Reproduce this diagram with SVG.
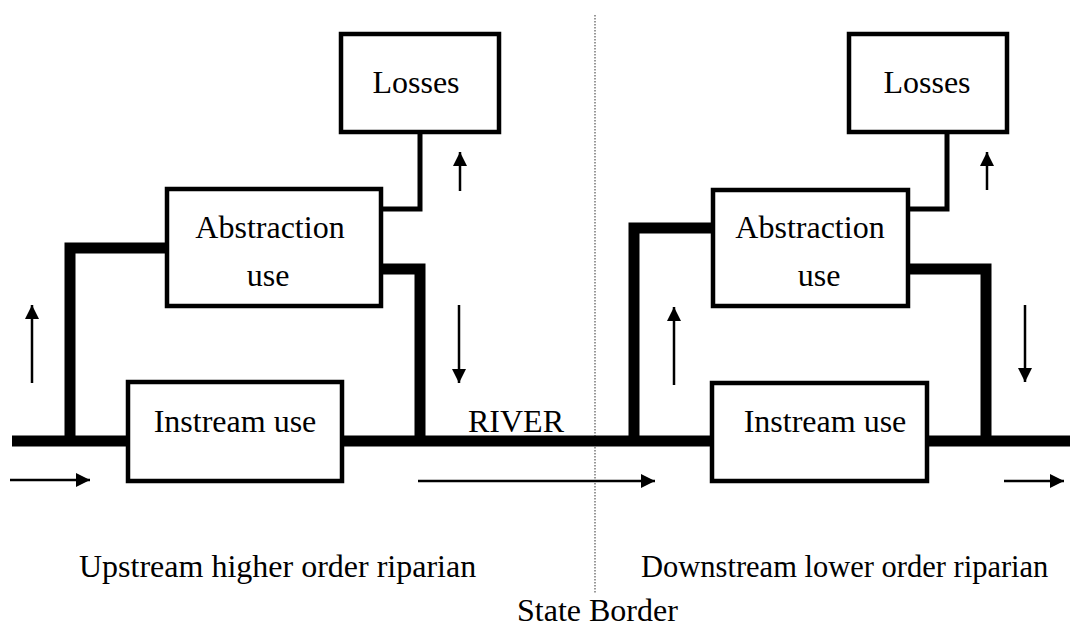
<svg xmlns="http://www.w3.org/2000/svg" width="1070" height="628" viewBox="0 0 1070 628">
<style>
.box{fill:#fff;stroke:#000;stroke-width:4.5}
.t{font-family:"Liberation Serif","Times New Roman",serif;font-size:32px;fill:#000}
.c{text-anchor:middle}
.thick{fill:none;stroke:#000;stroke-width:11;stroke-linejoin:miter}
.thin{fill:none;stroke:#000;stroke-width:5}
.arr{fill:none;stroke:#000;stroke-width:2.5;marker-end:url(#ah)}
.border{fill:none;stroke:#555;stroke-width:1.2;stroke-dasharray:1.5 1.5}
</style>
<defs>
<marker id="ah" markerUnits="userSpaceOnUse" viewBox="0 0 14 14" refX="14" refY="7" markerWidth="14" markerHeight="14" orient="auto">
<path d="M0,0 L14,7 L0,14 z" fill="#000"/>
</marker>
</defs>
<rect width="1070" height="628" fill="#fff"/>
<g id="state-border">
<line class="border" x1="595" y1="15" x2="595" y2="593"/>
</g>
<g id="connectors">
<path class="thick" d="M12 441 L1070 441"/>
<path class="thick" d="M165 248 L70 248 L70 441"/>
<path class="thick" d="M383 269 L420 269 L420 441"/>
<path class="thick" d="M711 228 L634 228 L634 441"/>
<path class="thick" d="M910 269 L986 269 L986 441"/>
<path class="thin" d="M420 134 L420 209 L383 209"/>
<path class="thin" d="M947 134 L947 209 L910 209"/>
<line class="arr" x1="10" y1="480" x2="90" y2="480"/>
<line class="arr" x1="418" y1="481" x2="655" y2="481"/>
<line class="arr" x1="1004" y1="481" x2="1064" y2="481"/>
<line class="arr" x1="32" y1="383" x2="32" y2="305"/>
<line class="arr" x1="459" y1="305" x2="459" y2="383"/>
<line class="arr" x1="460" y1="191" x2="460" y2="152"/>
<line class="arr" x1="674" y1="385" x2="674" y2="307"/>
<line class="arr" x1="1025" y1="305" x2="1025" y2="382"/>
<line class="arr" x1="987" y1="190" x2="987" y2="152"/>
</g>
<g id="losses-up">
<rect class="box" x="341" y="34" width="158" height="98"/>
<text class="t c" x="416" y="93">Losses</text>
</g>
<g id="abstraction-up">
<rect class="box" x="167" y="189" width="214" height="117"/>
<text class="t c" x="270" y="238">Abstraction</text>
<text class="t c" x="268" y="286">use</text>
</g>
<g id="instream-up">
<rect class="box" x="128" y="382" width="214" height="99"/>
<text class="t c" x="235" y="432">Instream use</text>
</g>
<g id="losses-down">
<rect class="box" x="849" y="34" width="158" height="98"/>
<text class="t c" x="927" y="93">Losses</text>
</g>
<g id="abstraction-down">
<rect class="box" x="713" y="190" width="195" height="116"/>
<text class="t c" x="810" y="238">Abstraction</text>
<text class="t c" x="819" y="286">use</text>
</g>
<g id="instream-down">
<rect class="box" x="712" y="383" width="215" height="98"/>
<text class="t c" x="825" y="432">Instream use</text>
</g>
<g id="labels">
<text class="t" x="468" y="432">RIVER</text>
<text class="t" x="79" y="577">Upstream higher order riparian</text>
<text class="t" x="641" y="577" style="font-size:30.5px">Downstream lower order riparian</text>
<text class="t" x="517" y="621">State Border</text>
</g>
</svg>
